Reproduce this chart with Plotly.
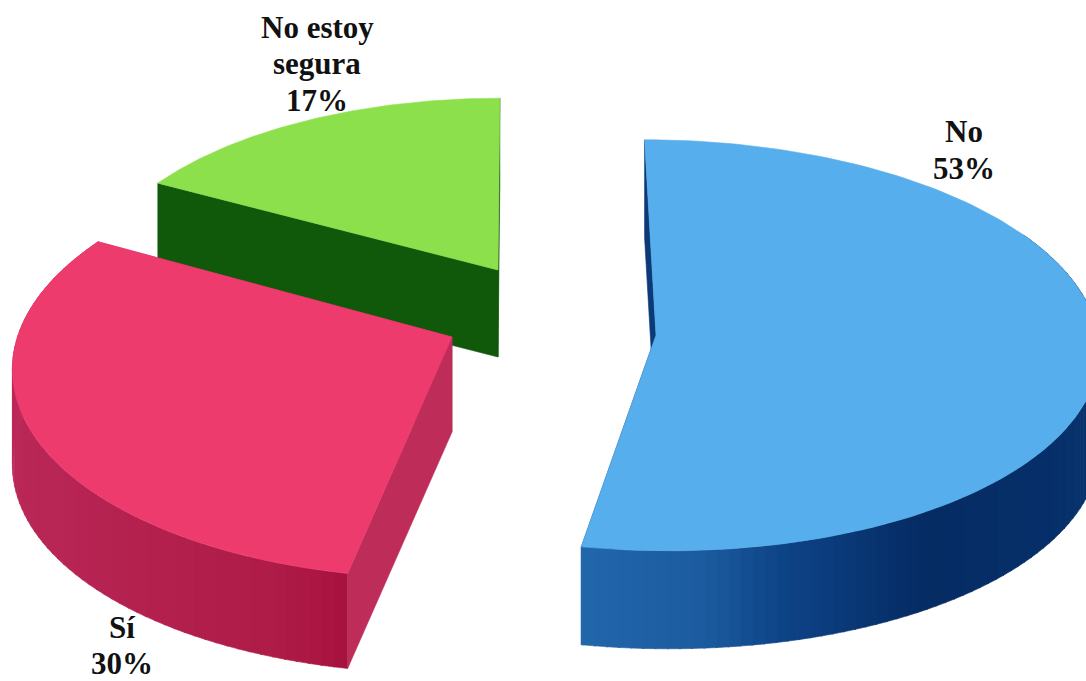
import numpy as np
import plotly.graph_objects as go

# ---- data ----
categories = ["No", "Sí", "No estoy segura"]
percents = [53, 30, 17]
label_lines = [["No", "53%"], ["Sí", "30%"], ["No estoy", "segura", "17%"]]

# ---- styling / projection of each slice (pixel scale) ----
apex = [(656, 335), (452, 337), (498, 270)]
radius_x = [442, 434.5, 408]
radius_y = [205, 210, 189]
shear = [-12, 9.8, 2.0]
persp = [0.05, 0.13, 0.10]
depth = [98, 95, 87]
top_color = ["#57AEEC", "#EE3B6D", "#8BE04B"]
cut_color = ["#0B3A78", "#BE2C5A", "#10590B"]
arc_stops = [
    [(90, "#0B3A74"), (120, "#07306A"), (147, "#062C64"), (166, "#0E4488"), (175, "#1C5A9E"), (191, "#2367AC")],
    [(191, "#A8123F"), (200, "#B01C48"), (235, "#B82656"), (270, "#BC2A5A"), (299, "#BC2A5A")],
    [],
]
label_x = [964, 122, 317]
label_y = [[131, 168], [627, 663], [27, 63, 100]]


def project(i, theta):
    t = np.radians(theta)
    u, v = np.sin(t), np.cos(t)
    w = 1 + persp[i] * v
    return (apex[i][0] + (radius_x[i] * u + shear[i] * v) / w,
            apex[i][1] - radius_y[i] * v / w)


def poly(xs, ys, color):
    return go.Scatter(x=list(xs), y=list(ys), mode="lines", fill="toself",
                      fillcolor=color, line=dict(color=color, width=0.6),
                      hoverinfo="skip", showlegend=False)


def lerp_color(stops, a):
    angs = [s[0] for s in stops]
    rgb = [[int(s[1][k:k + 2], 16) for k in (1, 3, 5)] for s in stops]
    return "rgb(%d,%d,%d)" % tuple(np.interp(a, angs, [c[n] for c in rgb]) for n in range(3))


edges = np.cumsum([0] + percents) * 3.6
traces = {0: [], 1: [], 2: []}
for i in range(3):
    a0, a1 = edges[i], edges[i + 1]
    d = depth[i]
    ax, ay = apex[i]
    # flat cut faces
    for a in (a0, a1):
        px, py = project(i, a)
        traces[i].append(poly([px, ax, ax, px, px], [py, ay, ay + d, py + d, py], cut_color[i]))
    # curved wall, drawn in thin strips for shading
    if arc_stops[i]:
        low = max(a0, arc_stops[i][0][0] - 30)
        for s0 in np.arange(low, a1, 1.5):
            s1 = min(s0 + 1.7, a1)
            th = np.linspace(s0, s1, 3)
            x, y = project(i, th)
            traces[i].append(poly(np.r_[x, x[::-1]], np.r_[y, (y + d)[::-1]],
                                  lerp_color(arc_stops[i], (s0 + s1) / 2)))
    # top surface
    th = np.linspace(a0, a1, 160)
    x, y = project(i, th)
    traces[i].append(poly(np.r_[ax, x, ax], np.r_[ay, y, ay], top_color[i]))

fig = go.Figure()
for i in (2, 1, 0):
    fig.add_traces(traces[i])

for i in range(3):
    for line, ly in zip(label_lines[i], label_y[i]):
        fig.add_annotation(x=label_x[i], y=ly, text="<b>%s</b>" % line, showarrow=False,
                           xanchor="center", yanchor="middle",
                           font=dict(family="Liberation Serif", size=31, color="#111111"))

fig.update_layout(
    width=1086, height=681, margin=dict(l=0, r=0, t=0, b=0),
    paper_bgcolor="white", plot_bgcolor="white", showlegend=False,
    xaxis=dict(range=[0, 1086], visible=False, fixedrange=True),
    yaxis=dict(range=[681, 0], visible=False, fixedrange=True),
)
fig.write_html("out.html", config=dict(displayModeBar=False),
               post_script="document.body.style.margin='0';document.documentElement.style.overflow='hidden';")
